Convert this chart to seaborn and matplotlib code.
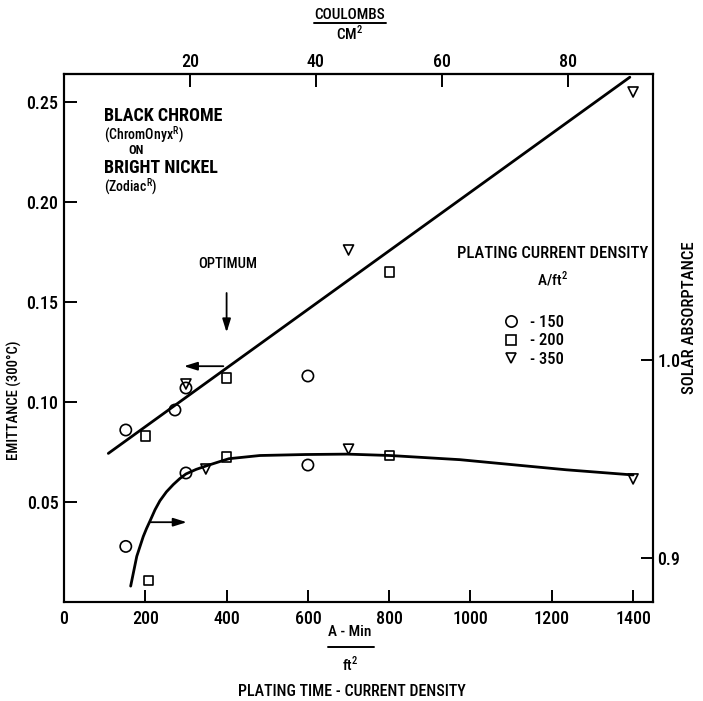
import numpy as np
import pandas as pd
import matplotlib
matplotlib.use("Agg")
import matplotlib.pyplot as plt
import seaborn as sns
from matplotlib.lines import Line2D
from matplotlib import font_manager as fm

# ---------------- data ----------------
density_levels = [150, 200, 350]
density_markers = {150: "o", 200: "s", 350: "v"}
density_sizes = {150: 66, 200: 44, 350: 52}

# emittance (left axis)
emit_time = [152, 200, 273, 300, 300, 400, 600, 700, 800, 1400]
emit_value = [0.086, 0.083, 0.096, 0.107, 0.109, 0.112, 0.113, 0.176, 0.165, 0.255]
emit_density = [150, 200, 150, 150, 350, 200, 150, 350, 200, 350]

# solar absorptance (right axis)
abs_time = [152, 207, 300, 349, 400, 600, 700, 800, 1400]
abs_value = [0.906, 0.889, 0.943, 0.945, 0.951, 0.947, 0.955, 0.952, 0.940]
abs_density = [150, 200, 150, 350, 200, 150, 350, 200, 350]

# hand-drawn curves
emit_fit_time = [109, 1392]
emit_fit_value = [0.0743, 0.2624]
abs_fit_time = [164, 172, 179, 187, 195, 203, 212, 224, 236, 252, 269, 285,
                300, 325, 349, 384, 406, 482, 594, 697, 802, 974, 1236, 1400]
abs_fit_value = [0.886, 0.894, 0.901, 0.906, 0.911, 0.915, 0.919, 0.9245,
                 0.929, 0.9335, 0.9372, 0.9402, 0.9425, 0.9448, 0.9465,
                 0.9488, 0.9502, 0.9518, 0.9523, 0.9525, 0.9518, 0.9497,
                 0.9446, 0.942]

x_ticks = [0, 200, 400, 600, 800, 1000, 1200, 1400]
x_ticklabels = ["0", "200", "400", "600", "800", "1000", "1200", "1400"]
y_ticks = [0.05, 0.10, 0.15, 0.20, 0.25]
y_ticklabels = ["0.05", "0.10", "0.15", "0.20", "0.25"]
y2_ticks = [0.9, 1.0]
y2_ticklabels = ["0.9", "1.0"]
top_ticks = [20, 40, 60, 80]
top_ticklabels = ["20", "40", "60", "80"]

emit_df = pd.DataFrame({"time": emit_time, "value": emit_value,
                        "density": emit_density})
abs_df = pd.DataFrame({"time": abs_time, "value": abs_value,
                       "density": abs_density})
emit_fit_df = pd.DataFrame({"time": emit_fit_time, "value": emit_fit_value})
abs_fit_df = pd.DataFrame({"time": abs_fit_time, "value": abs_fit_value})


# ---------------- style ----------------
def pick_font(names):
    for n in names:
        try:
            fm.findfont(fm.FontProperties(family=n), fallback_to_default=False)
            return n
        except Exception:
            pass
    return "DejaVu Sans"


FONT = pick_font(["Liberation Sans Narrow", "DejaVu Sans Condensed",
                  "Roboto Condensed", "Open Sans Condensed", "DejaVu Sans"])

sns.set_style("white")
plt.rcParams["font.family"] = [FONT, "DejaVu Sans"]
plt.rcParams["font.stretch"] = "condensed"
plt.rcParams["font.weight"] = "medium"
plt.rcParams["text.color"] = "black"
plt.rcParams["axes.labelcolor"] = "black"
plt.rcParams["xtick.color"] = "black"
plt.rcParams["ytick.color"] = "black"
plt.rcParams["axes.linewidth"] = 1.5

W, H = 703, 701
fig = plt.figure(figsize=(W / 100, H / 100), dpi=100)
fig.patch.set_facecolor("white")


def fp(x, y):
    return (x / W, 1 - y / H)


L, R, T, B = 64, 653, 74, 602
ax = fig.add_axes([L / W, 1 - B / H, (R - L) / W, (B - T) / H])
ax2 = ax.twinx()

# ---------------- draw ----------------
sns.lineplot(data=emit_fit_df, x="time", y="value", ax=ax, color="black",
             lw=2.0, sort=False, estimator=None)
sns.scatterplot(data=emit_df, x="time", y="value", style="density",
                markers=density_markers, size="density", sizes=density_sizes,
                facecolor="none", edgecolor="black", linewidth=1.2,
                ax=ax, legend=False, zorder=3)

sns.lineplot(data=abs_fit_df, x="time", y="value", ax=ax2, color="black",
             lw=2.0, sort=False, estimator=None)
sns.scatterplot(data=abs_df, x="time", y="value", style="density",
                markers=density_markers, size="density", sizes=density_sizes,
                facecolor="none", edgecolor="black", linewidth=1.2,
                ax=ax2, legend=False, zorder=3)

ax.set_xlim(0, 1449)
ax.set_ylim(0, 0.264)
ax2.set_ylim(0.878, 1.144)

ax.set_xticks(x_ticks)
ax.set_xticklabels(x_ticklabels)
ax.set_yticks(y_ticks)
ax.set_yticklabels(y_ticklabels)
ax2.set_yticks(y2_ticks)
ax2.set_yticklabels(y2_ticklabels)
ax.set_xlabel("")
ax.set_ylabel("")
ax2.set_ylabel("")

TICK_FS = 13
ax.tick_params(axis="both", direction="in", length=9, width=1.4,
               labelsize=TICK_FS, colors="black", pad=6)
ax.tick_params(axis="y", right=False, left=True, pad=4)
ax.tick_params(axis="x", top=False, bottom=True)
ax2.tick_params(axis="y", direction="in", length=9, width=1.4,
                labelsize=TICK_FS, colors="black", pad=3, left=False,
                right=True)
for sp in list(ax.spines.values()) + list(ax2.spines.values()):
    sp.set_color("black")
    sp.set_linewidth(1.5)

to_c = lambda a: np.asarray(a) * 60.0 / 929.03
to_a = lambda c: np.asarray(c) * 929.03 / 60.0
sec = ax.secondary_xaxis("top", functions=(to_c, to_a))
sec.set_xticks(top_ticks)
sec.set_xticklabels(top_ticklabels)
sec.tick_params(direction="in", length=9, width=1.4, labelsize=TICK_FS,
                pad=2, colors="black")

# arrows
arw = dict(arrowstyle="-|>,head_length=0.8,head_width=0.25", color="black",
           lw=1.3, shrinkA=0, shrinkB=0)
ax.annotate("", xy=(295, 0.1179), xytext=(392, 0.1179), arrowprops=arw)
ax2.annotate("", xy=(302, 0.9182), xytext=(213, 0.9182), arrowprops=arw)
ax.annotate("", xy=(400, 0.1348), xytext=(400, 0.1545), arrowprops=arw)
fig.text(*fp(228, 264), "OPTIMUM", ha="center", va="center", fontsize=10.5)

# title block
fig.text(*fp(104, 116), "BLACK CHROME", ha="left", va="center",
         fontsize=13, fontweight="heavy")
fig.text(*fp(104, 135), "(ChromOnyx$^{\\mathregular{R}}$)", ha="left",
         va="center", fontsize=10)
fig.text(*fp(136, 151), "ON", ha="center", va="center", fontsize=9,
         fontweight="bold")
fig.text(*fp(104, 168), "BRIGHT NICKEL", ha="left", va="center",
         fontsize=13, fontweight="heavy")
fig.text(*fp(104, 187), "(Zodiac$^{\\mathregular{R}}$)", ha="left",
         va="center", fontsize=10)

# legend
fig.text(*fp(553, 253), "PLATING CURRENT DENSITY", ha="center",
         va="center", fontsize=12)
fig.text(*fp(552, 279), "A/ft$^{\\mathregular{2}}$", ha="center",
         va="center", fontsize=11)
handles = [Line2D([], [], ls="", marker=density_markers[d], mfc="none",
                  mec="black", mew=1.2,
                  ms=np.sqrt(density_sizes[d]), label=f"- {d}")
           for d in density_levels]
leg = ax.legend(handles=handles, loc="upper left", frameon=False,
                bbox_to_anchor=fp(503, 315), bbox_transform=fig.transFigure,
                borderpad=0, borderaxespad=0, handlelength=1.0,
                handletextpad=0.6, labelspacing=0.2, fontsize=12)
for t in leg.get_texts():
    t.set_color("black")

# axis titles
fig.text(*fp(350, 632), "A - Min", ha="center", va="center", fontsize=11)
fig.add_artist(Line2D([328 / W, 374 / W], [1 - 647 / H, 1 - 647 / H],
                      color="black", lw=1.4))
fig.text(*fp(350, 664), "ft$^{\\mathregular{2}}$", ha="center", va="center",
         fontsize=11)
fig.text(*fp(352, 692), "PLATING TIME - CURRENT DENSITY", ha="center",
         va="center", fontsize=11.5)

fig.text(*fp(350, 15), "COULOMBS", ha="center", va="center", fontsize=11)
fig.add_artist(Line2D([314 / W, 386 / W], [1 - 23 / H, 1 - 23 / H],
                      color="black", lw=1.4))
fig.text(*fp(350, 33), "CM$^{\\mathregular{2}}$", ha="center", va="center",
         fontsize=11)

fig.text(*fp(14, 400), "EMITTANCE (300°C)", ha="center", va="center",
         rotation=90, fontsize=10.5)
fig.text(*fp(690, 318), "SOLAR ABSORPTANCE", ha="center", va="center",
         rotation=90, fontsize=12)

fig.savefig("out.png", dpi=100, facecolor="white")
